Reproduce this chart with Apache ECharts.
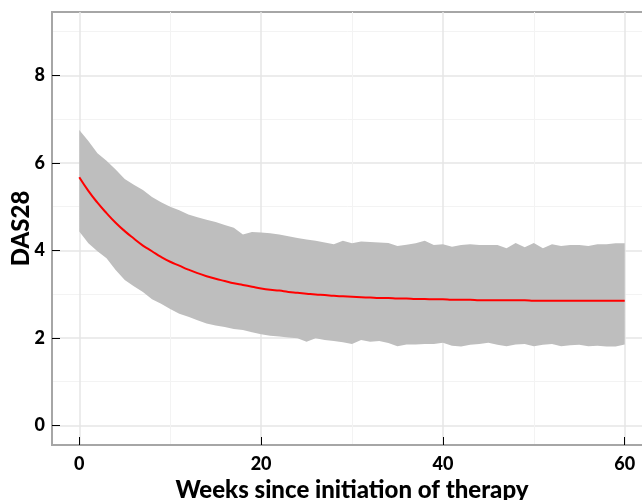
<!DOCTYPE html>
<html>
<head>
<meta charset="utf-8">
<script src="https://cdn.jsdelivr.net/npm/echarts@6/dist/echarts.min.js"></script>
<style>
  html, body { margin: 0; padding: 0; background: #fff; }
  #chart { width: 642px; height: 500px; }
</style>
</head>
<body>
<div id="chart"></div>
<script>
// weeks since start of therapy
const weeks = [
  0, 1, 2, 3, 4, 5, 6, 7, 8, 9, 10, 11, 12, 13, 14, 15, 16, 17, 18, 19, 20,
  21, 22, 23, 24, 25, 26, 27, 28, 29, 30, 31, 32, 33, 34, 35, 36, 37, 38, 39, 40,
  41, 42, 43, 44, 45, 46, 47, 48, 49, 50, 51, 52, 53, 54, 55, 56, 57, 58, 59, 60
]
// mean DAS28 (red line)
const meanDas = [
  5.67, 5.36, 5.09, 4.85, 4.63, 4.44, 4.27, 4.11, 3.98, 3.85, 3.74,
  3.65, 3.56, 3.48, 3.41, 3.35, 3.30, 3.25, 3.21, 3.17, 3.13,
  3.10, 3.08, 3.05, 3.03, 3.01, 2.99, 2.98, 2.96, 2.95, 2.94,
  2.93, 2.92, 2.91, 2.91, 2.90, 2.90, 2.89, 2.89, 2.88, 2.88,
  2.87, 2.87, 2.87, 2.86, 2.86, 2.86, 2.86, 2.86, 2.86, 2.85,
  2.85, 2.85, 2.85, 2.85, 2.85, 2.85, 2.85, 2.85, 2.85, 2.85
]
// grey band edges
const upperDas = [
  6.75, 6.50, 6.22, 6.05, 5.85, 5.63, 5.50, 5.38, 5.22, 5.10, 5.00,
  4.92, 4.82, 4.76, 4.70, 4.65, 4.58, 4.52, 4.36, 4.42, 4.41,
  4.39, 4.36, 4.32, 4.28, 4.25, 4.22, 4.18, 4.14, 4.22, 4.16,
  4.20, 4.19, 4.18, 4.17, 4.10, 4.13, 4.16, 4.22, 4.12, 4.14,
  4.08, 4.12, 4.14, 4.12, 4.12, 4.12, 4.05, 4.17, 4.07, 4.17,
  4.05, 4.14, 4.10, 4.12, 4.12, 4.10, 4.14, 4.14, 4.16, 4.16
]
const lowerDas = [
  4.43, 4.16, 3.98, 3.82, 3.55, 3.32, 3.18, 3.05, 2.88, 2.78, 2.66,
  2.55, 2.48, 2.40, 2.33, 2.28, 2.25, 2.20, 2.18, 2.13, 2.08,
  2.05, 2.03, 2.01, 1.99, 1.91, 1.99, 1.95, 1.93, 1.90, 1.86,
  1.95, 1.91, 1.93, 1.88, 1.81, 1.85, 1.85, 1.86, 1.86, 1.89,
  1.82, 1.80, 1.84, 1.86, 1.89, 1.84, 1.81, 1.85, 1.86, 1.81,
  1.84, 1.86, 1.81, 1.83, 1.84, 1.81, 1.82, 1.80, 1.80, 1.85
]
const xTicks = [0, 20, 40, 60]
const xMinor = [10, 30, 50]
const yTicks = [0, 2, 4, 6, 8]
const yMinor = [1, 3, 5, 7, 9]

const labelFont = {
  color: '#000',
  fontFamily: 'Lato',
  fontWeight: 900,
  fontSize: 18
}
const nameFont = { color: '#000', fontFamily: 'Lato', fontWeight: 900, fontSize: 24 }

const chart = echarts.init(document.getElementById('chart'))

// band polygon: upper edge forward, lower edge back
function renderBand(params, api) {
  const pts = []
  for (let i = 0; i < weeks.length; i++) pts.push(api.coord([weeks[i], upperDas[i]]))
  for (let i = weeks.length - 1; i >= 0; i--) pts.push(api.coord([weeks[i], lowerDas[i]]))
  return {
    type: 'polygon',
    shape: { points: pts },
    style: { fill: '#bebebe' }
  }
}

chart.setOption({
  animation: false,
  grid: {
    left: 52,
    right: -10,
    top: 12,
    bottom: 55,
    outerBoundsMode: 'none',
    show: true,
    borderColor: '#a6a6a6',
    borderWidth: 2
  },
  xAxis: [
    {
      type: 'value',
      min: -3,
      max: 63,
      name: 'Weeks since initiation of therapy',
      nameLocation: 'middle',
      nameGap: 33,
      nameMoveOverlap: false,
      nameTextStyle: nameFont,
      axisLine: { show: true, onZero: false, lineStyle: { color: '#a6a6a6', width: 2 } },
      axisTick: { show: true, inside: true, length: 8, customValues: xTicks, lineStyle: { color: '#000', width: 1 } },
      axisLabel: Object.assign({ customValues: xTicks, margin: 10 }, labelFont),
      splitLine: { show: true, lineStyle: { color: '#e6e6e6', width: 1.5 } }
    },
    {
      // minor vertical grid lines
      type: 'value',
      min: -3,
      max: 63,
      position: 'bottom',
      axisLine: { show: false, onZero: false },
      axisTick: { show: false, customValues: xMinor },
      axisLabel: { show: false },
      splitLine: { show: true, lineStyle: { color: '#f3f3f3', width: 1 } }
    }
  ],
  yAxis: [
    {
      type: 'value',
      min: -0.45,
      max: 9.45,
      name: 'DAS28',
      nameLocation: 'middle',
      nameGap: 19,
      nameMoveOverlap: false,
      nameTextStyle: nameFont,
      axisLine: { show: true, onZero: false, lineStyle: { color: '#a6a6a6', width: 2 } },
      axisTick: { show: true, inside: true, length: 8, customValues: yTicks, lineStyle: { color: '#000', width: 1 } },
      axisLabel: Object.assign({ customValues: yTicks, margin: 7 }, labelFont),
      splitLine: { show: true, lineStyle: { color: '#e6e6e6', width: 1.5 } }
    },
    {
      type: 'value',
      min: -0.45,
      max: 9.45,
      position: 'left',
      axisLine: { show: false, onZero: false },
      axisTick: { show: false, customValues: yMinor },
      axisLabel: { show: false },
      splitLine: { show: true, lineStyle: { color: '#f3f3f3', width: 1 } }
    }
  ],
  series: [
    {
      name: 'band',
      type: 'custom',
      renderItem: renderBand,
      data: [0],
      z: 2
    },
    {
      name: 'mean',
      type: 'line',
      smooth: true,
      symbol: 'none',
      lineStyle: { color: '#ff0000', width: 2 },
      data: weeks.map((w, i) => [w, meanDas[i]]),
      z: 3
    }
  ]
})
</script>
</body>
</html>
